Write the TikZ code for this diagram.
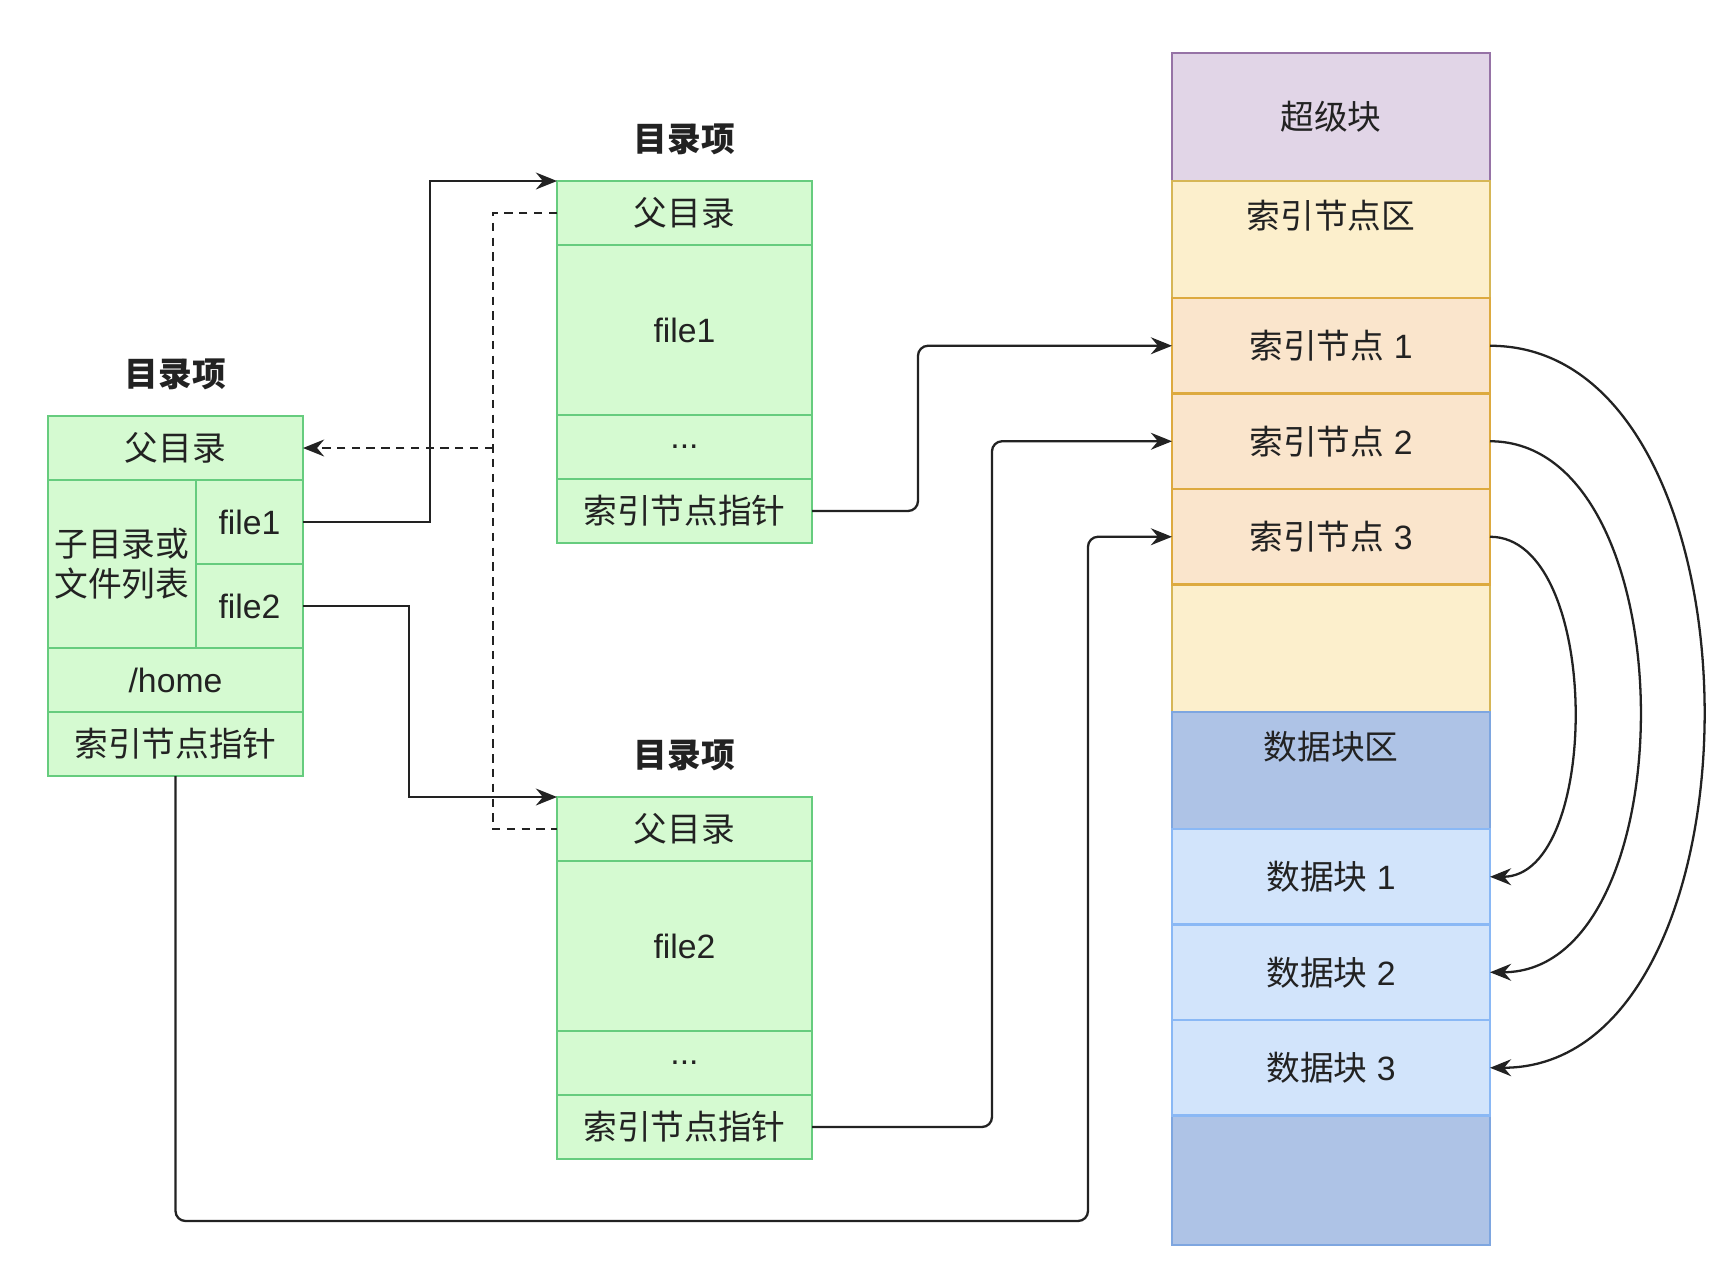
\documentclass[tikz,border=0pt]{standalone}
\usepackage{fontspec}
\setmainfont{Liberation Sans}
\newfontfamily\cjk{Noto Sans CJK SC}
\usepackage{tikz}
\usetikzlibrary{arrows.meta,positioning}
\definecolor{txt}{HTML}{222222}
\definecolor{greenfill}{HTML}{D5FAD1}
\definecolor{greenline}{HTML}{66CC7E}
\definecolor{superfill}{HTML}{E1D5E7}
\definecolor{superline}{HTML}{9673A6}
\definecolor{areafill}{HTML}{FCEFCC}
\definecolor{arealine}{HTML}{D6B656}
\definecolor{inodefill}{HTML}{FAE5CC}
\definecolor{inodeline}{HTML}{DDAA3F}
\definecolor{datafill}{HTML}{AEC3E6}
\definecolor{dataline}{HTML}{7EA6E0}
\definecolor{blockfill}{HTML}{D2E4FB}
\definecolor{blockline}{HTML}{8AB8F5}
\tikzstyle{cell} = [draw=greenline, fill=greenfill, line width=0.8pt,
  minimum width=2.55cm, minimum height=0.64cm, inner sep=0pt, outer sep=0pt]
\tikzstyle{title} = [font=\cjk\bfseries]
\tikzstyle{block} = [draw, line width=0.8pt, minimum width=3.18cm,
  inner sep=0pt, outer sep=0pt]
\tikzstyle{line} = [draw, line width=0.65pt, color=txt,
  -{Stealth[length=6pt,width=4.8pt,inset=2pt]}]
\tikzstyle{dline} = [line, dash pattern=on 2.4pt off 1.8pt]
\newcommand{\entry}[3]{node (#1)[cell,#2]{#3}}
\newcommand{\slot}[3]{node (#1)[block,#2]{#3}}

\begin{document}
\fontsize{9.6}{11.5}\selectfont
\begin{tikzpicture}[text=txt]
  \path[use as bounding box, fill=white] (0,0) rectangle (17.28,-12.78);

  % left entry
  \path (0.48,-4.16) \entry{Ap}{anchor=north west}{\cjk 父目录};
  \path (Ap.south west) \entry{Al}{anchor=north west, minimum width=1.48cm,
    minimum height=1.68cm, align=center, font=\cjk}{子目录或\\文件列表};
  \path (Al.north east) \entry{Af1}{anchor=north west, minimum width=1.07cm,
    minimum height=0.84cm}{file1};
  \path (Af1.south west) \entry{Af2}{anchor=north west, minimum width=1.07cm,
    minimum height=0.84cm}{file2};
  \path (Al.south west) \entry{Ah}{anchor=north west}{/home};
  \path (Ah.south west) \entry{Ai}{anchor=north west}{\cjk 索引节点指针};
  \path (Ap.north)+(0,0.42) node (At)[title]{目录项};

  % entry of file1
  \path (5.57,-1.81) \entry{Bp}{anchor=north west}{\cjk 父目录};
  \path (Bp.south) \entry{Bf}{anchor=north, minimum height=1.70cm}{file1};
  \path (Bf.south) \entry{Bd}{anchor=north}{...};
  \path (Bd.south) \entry{Bi}{anchor=north}{\cjk 索引节点指针};
  \path (Bp.north)+(0,0.42) node (Bt)[title]{目录项};

  % entry of file2
  \path (5.57,-7.97) \entry{Cp}{anchor=north west}{\cjk 父目录};
  \path (Cp.south) \entry{Cf}{anchor=north, minimum height=1.70cm}{file2};
  \path (Cf.south) \entry{Cd}{anchor=north}{...};
  \path (Cd.south) \entry{Ci}{anchor=north}{\cjk 索引节点指针};
  \path (Cp.north)+(0,0.42) node (Ct)[title]{目录项};

  % disk layout
  \path (11.72,-0.53) \slot{sb}{anchor=north west, draw=superline,
    fill=superfill, minimum height=1.28cm}{\cjk 超级块};
  \path (sb.south) \slot{ia}{anchor=north, draw=arealine, fill=areafill,
    minimum height=5.31cm,
    label={[anchor=center,yshift=-0.35cm]north:{\cjk 索引节点区}}}{};
  \path (ia.north)+(0,-1.17) \slot{in1}{anchor=north, draw=inodeline,
    fill=inodefill, minimum height=0.955cm}{{\cjk 索引节点} 1};
  \path (in1.south) \slot{in2}{anchor=north, draw=inodeline,
    fill=inodefill, minimum height=0.955cm}{{\cjk 索引节点} 2};
  \path (in2.south) \slot{in3}{anchor=north, draw=inodeline,
    fill=inodefill, minimum height=0.955cm}{{\cjk 索引节点} 3};
  \path (ia.south) \slot{da}{anchor=north, draw=dataline, fill=datafill,
    minimum height=5.33cm,
    label={[anchor=center,yshift=-0.35cm]north:{\cjk 数据块区}}}{};
  \path (da.north)+(0,-1.17) \slot{db1}{anchor=north, draw=blockline,
    fill=blockfill, minimum height=0.955cm}{{\cjk 数据块} 1};
  \path (db1.south) \slot{db2}{anchor=north, draw=blockline,
    fill=blockfill, minimum height=0.955cm}{{\cjk 数据块} 2};
  \path (db2.south) \slot{db3}{anchor=north, draw=blockline,
    fill=blockfill, minimum height=0.955cm}{{\cjk 数据块} 3};

  % parent links
  \path (Bp.west)+(-0.64,0) coordinate (jt);
  \coordinate (jn) at (jt |- Ap.east);
  \path [dline,-] (Bp.west) -- (jt) |- (Cp.west);
  \path [dline] (jn) -- (Ap.east);

  % child links
  \path [line] (Af1.east) -- ++(1.27,0) |- (Bp.north west);
  \path [line] (Af2.east) -- ++(1.06,0) |- (Cp.north west);

  % inode pointers
  \path [line, rounded corners=0.1cm] (Bi.east) -- ++(1.06,0) |- (in1.west);
  \path [line, rounded corners=0.1cm] (Ci.east) -- ++(1.80,0) |- (in2.west);
  \path [line, rounded corners=0.1cm] (Ai.south) -- ++(0,-4.45)
    -| ([xshift=-0.84cm]in3.west) -- (in3.west);

  % inode to data block
  \path [line] (in1.east) .. controls +(2.84,0) and +(2.84,0) .. (db3.east);
  \path [line] (in2.east) .. controls +(1.99,0) and +(1.99,0) .. (db2.east);
  \path [line] (in3.east) .. controls +(1.12,0) and +(1.12,0) .. (db1.east);
\end{tikzpicture}
\end{document}
